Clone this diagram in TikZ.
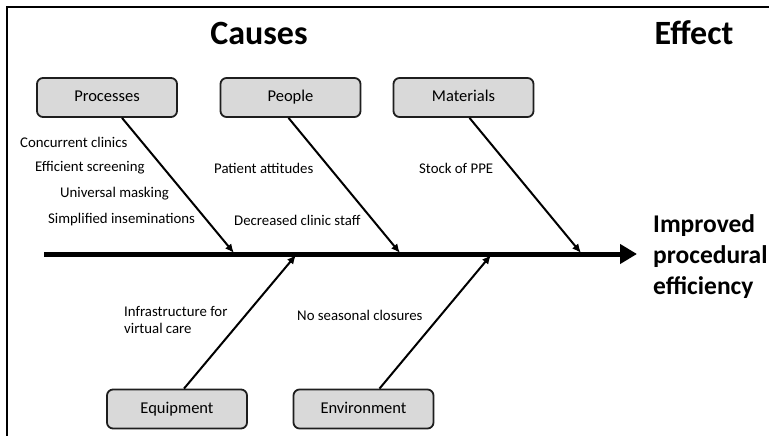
\documentclass[tikz,border=0pt]{standalone}
\usepackage{fontspec}
\setmainfont{Carlito}
\usetikzlibrary{arrows.meta}
\definecolor{boxgray}{RGB}{217,217,217}
\definecolor{edgegray}{RGB}{30,30,30}
\tikzset{
  catbox/.style={draw=edgegray, fill=boxgray, rounded corners=6pt, line width=1.8pt,
    minimum width=140pt, minimum height=39pt, inner sep=0pt, text height=11pt, text depth=3pt,
    font=\fontsize{16.5}{19}\selectfont},
  cause/.style={anchor=west, inner sep=0pt, font=\fontsize{14.8}{17}\selectfont, align=left},
  bone/.style={line width=2pt, -{Latex[length=9pt,width=8pt]}},
  spine/.style={line width=5pt, -{Triangle[length=17pt,width=19pt]}},
  heading/.style={inner sep=0pt, font=\fontsize{34}{40}\selectfont\bfseries},
}
\begin{document}
\begin{tikzpicture}[x=1pt,y=-1pt]
\useasboundingbox (0,0) rectangle (769,436);
\clip (0,0) rectangle (769,436);
\fill[white] (0,0) rectangle (769,436);
\draw[line width=2pt] (7,7) rectangle (790,460);

\node[heading] (causes) at (259,33) {Causes};
\node[heading] (effect) at (694,33) {Effect};

\node[catbox] (proc) at (107,97.5) {Processes};
\node[catbox] (peop) at (290.5,97.5) {People};
\node[catbox] (mat) at (463.5,97.5) {Materials};
\node[catbox] (equip) at (177,409) {Equipment};
\node[catbox] (env) at (363.5,409) {Environment};

\coordinate (tail) at (44,254);
\coordinate (head) at (637,254);
\draw[spine] (tail) -- (head);

\coordinate (s1) at (234,253);
\coordinate (s2) at (400,253);
\coordinate (s3) at (581,253);
\coordinate (s4) at (296,255);
\coordinate (s5) at (491,255);

\draw[bone] ([xshift=15pt]proc.south) -- (s1);
\draw[bone] ([xshift=-2pt]peop.south) -- (s2);
\draw[bone] ([xshift=6pt]mat.south) -- (s3);
\draw[bone] ([xshift=7pt]equip.north) -- (s4);
\draw[bone] ([xshift=16pt]env.north) -- (s5);

\node[cause] (c1) at (20,142) {Concurrent clinics};
\node[cause] (c2) at (35,168) {Efficient screening};
\node[cause] (c3) at (60,194) {Universal masking};
\node[cause] (c4) at (48,220) {Simplified inseminations};
\node[cause] (c5) at (214,168) {Patient attitudes};
\node[cause] (c6) at (234,220) {Decreased clinic staff};
\node[cause] (c7) at (419,168) {Stock of PPE};
\node[cause, font=\fontsize{14.8}{17.5}\selectfont] (c8) at (124,320) {Infrastructure for\\virtual care};
\node[cause] (c9) at (297,315) {No seasonal closures};

\node[anchor=west, inner sep=0pt, align=left, font=\fontsize{25.5}{31}\selectfont\bfseries] (eff) at (653,257) {Improved\\procedural\\efficiency};
\end{tikzpicture}
\end{document}
